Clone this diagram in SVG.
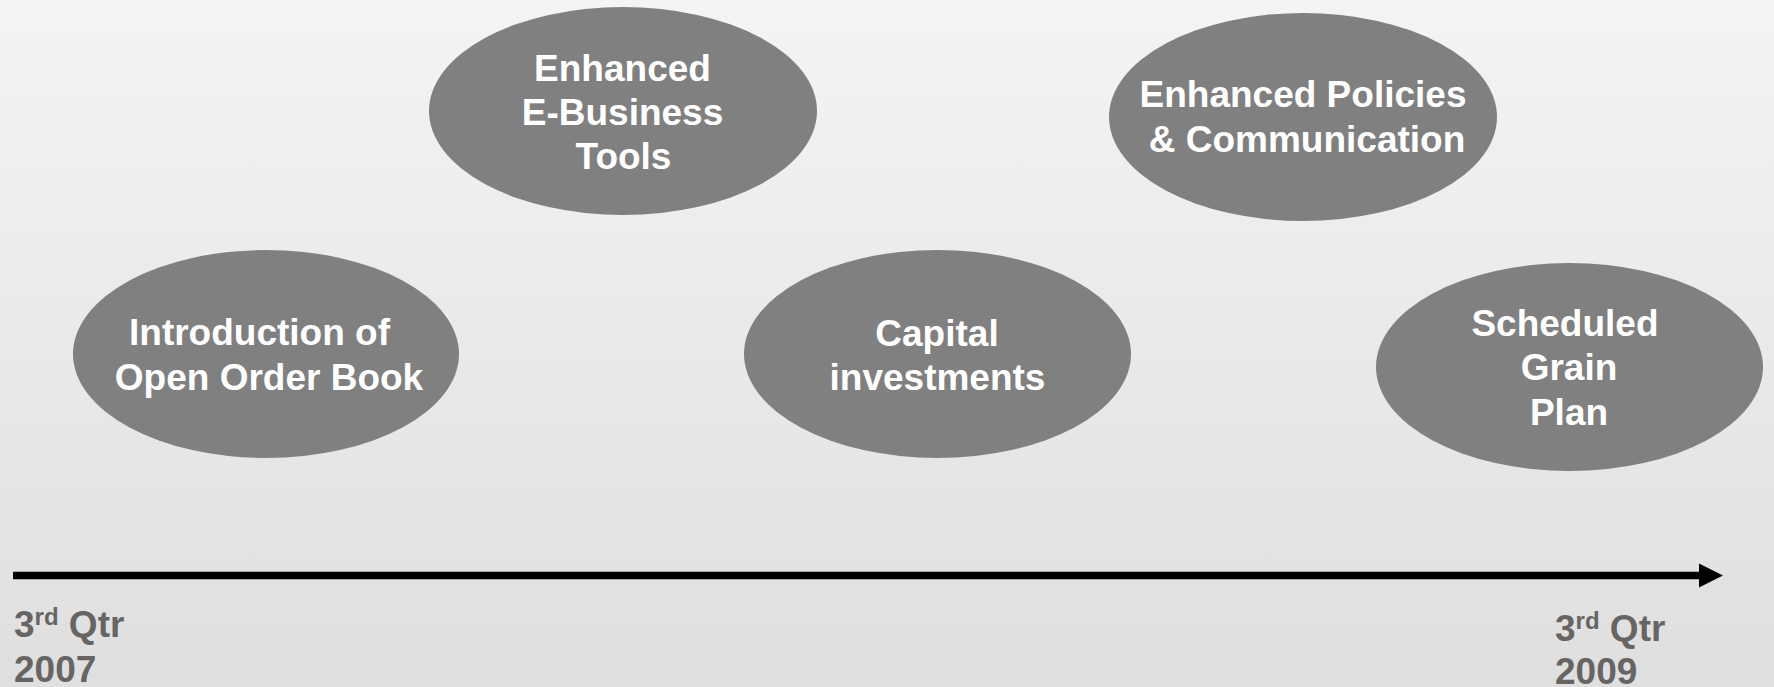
<svg xmlns="http://www.w3.org/2000/svg" width="1774" height="687" viewBox="0 0 1774 687">
<defs>
<linearGradient id="bg" x1="0" y1="0" x2="0" y2="1">
<stop offset="0" stop-color="#f4f4f4"/>
<stop offset="1" stop-color="#dfdfdf"/>
</linearGradient>
<marker id="ah" markerUnits="userSpaceOnUse" markerWidth="26" markerHeight="26" refX="0" refY="12" orient="auto" viewBox="0 0 26 24">
<path d="M0,0 L24,12 L0,24 Z" fill="#000"/>
</marker>
</defs>
<style>
.node ellipse{fill:#808080;}
.node text{font-family:"Liberation Sans",Arial,sans-serif;font-weight:bold;font-size:37px;fill:#fff;text-anchor:middle;}
.date{font-family:"Liberation Sans",Arial,sans-serif;font-weight:bold;font-size:37px;fill:#676563;}
.sup{font-size:24px;}
</style>
<rect width="1774" height="687" fill="url(#bg)"/>
<g id="connectors">
<line x1="13" y1="575.5" x2="1699" y2="575.5" stroke="#000" stroke-width="7.5" marker-end="url(#ah)"/>
</g>
<g id="node-ebusiness" class="node">
<ellipse cx="623" cy="111" rx="194" ry="104"/>
<text x="622.5" y="81">Enhanced</text>
<text x="622.5" y="125">E-Business</text>
<text x="623.5" y="169">Tools</text>
</g>
<g id="node-policies" class="node">
<ellipse cx="1303" cy="117" rx="194" ry="104"/>
<text x="1303" y="107">Enhanced Policies</text>
<text x="1307" y="152">&amp; Communication</text>
</g>
<g id="node-openorder" class="node">
<ellipse cx="266" cy="354" rx="193" ry="104"/>
<text x="259.5" y="345">Introduction of</text>
<text x="269" y="390">Open Order Book</text>
</g>
<g id="node-capital" class="node">
<ellipse cx="937.5" cy="354" rx="193.5" ry="104"/>
<text x="937" y="346">Capital</text>
<text x="937.5" y="390">investments</text>
</g>
<g id="node-grain" class="node">
<ellipse cx="1569.5" cy="367" rx="193.5" ry="104"/>
<text x="1565" y="336">Scheduled</text>
<text x="1569" y="380">Grain</text>
<text x="1569" y="425">Plan</text>
</g>
<g id="date-start">
<text class="date" x="14" y="637">3<tspan class="sup" dy="-12">rd</tspan><tspan dy="12"> Qtr</tspan></text>
<text class="date" x="14" y="682">2007</text>
</g>
<g id="date-end">
<text class="date" x="1555" y="641">3<tspan class="sup" dy="-12">rd</tspan><tspan dy="12"> Qtr</tspan></text>
<text class="date" x="1555" y="684">2009</text>
</g>
</svg>
